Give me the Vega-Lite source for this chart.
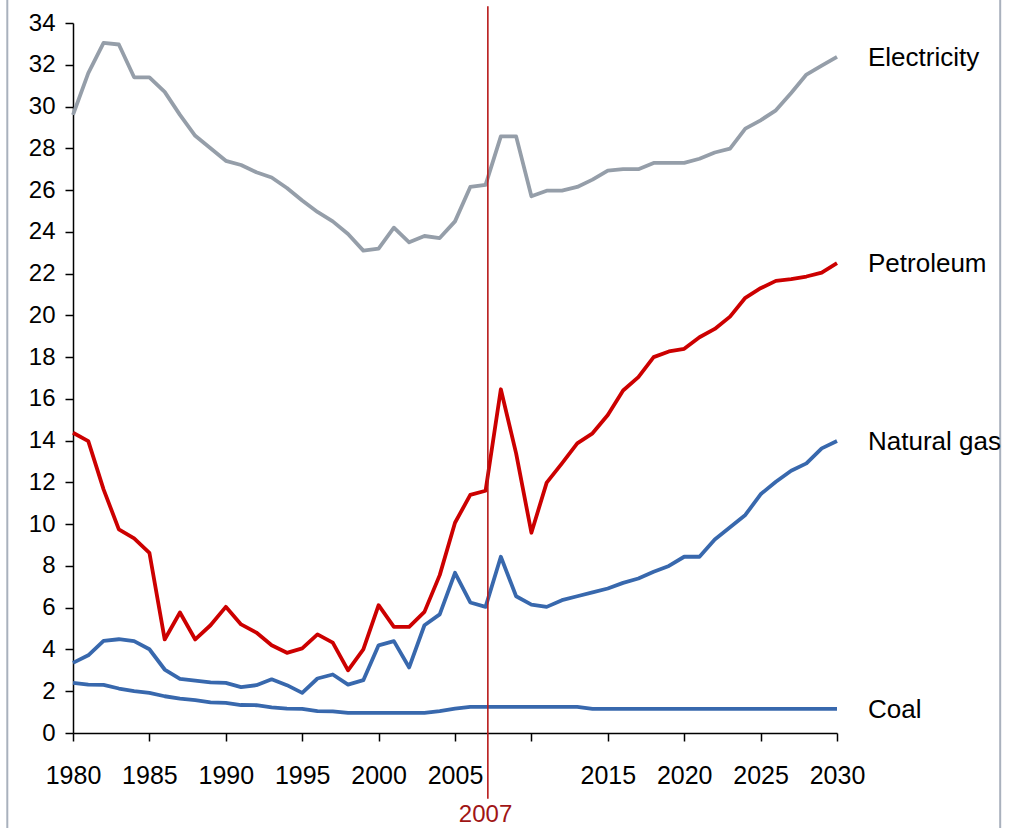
{
  "$schema": "https://vega.github.io/schema/vega-lite/v6.json",
  "autosize": "none",
  "width": 764,
  "height": 710,
  "padding": {"left": 73, "top": 23, "right": 176, "bottom": 95},
  "background": "white",
  "config": {"view": {"stroke": null}, "font": "Liberation Sans"},
  "datasets": {
    "energy": [
      {"year":1980,"Electricity":29.6,"Petroleum":14.38,"Natural gas":3.36,"Coal":2.4},
      {"year":1981,"Electricity":31.6,"Petroleum":13.98,"Natural gas":3.72,"Coal":2.32},
      {"year":1982,"Electricity":33.05,"Petroleum":11.67,"Natural gas":4.41,"Coal":2.3},
      {"year":1983,"Electricity":32.97,"Petroleum":9.75,"Natural gas":4.49,"Coal":2.13},
      {"year":1984,"Electricity":31.4,"Petroleum":9.32,"Natural gas":4.4,"Coal":2.01},
      {"year":1985,"Electricity":31.4,"Petroleum":8.63,"Natural gas":4.01,"Coal":1.92},
      {"year":1986,"Electricity":30.7,"Petroleum":4.48,"Natural gas":3.04,"Coal":1.76},
      {"year":1987,"Electricity":29.6,"Petroleum":5.77,"Natural gas":2.59,"Coal":1.65},
      {"year":1988,"Electricity":28.6,"Petroleum":4.48,"Natural gas":2.51,"Coal":1.57},
      {"year":1989,"Electricity":28.0,"Petroleum":5.16,"Natural gas":2.42,"Coal":1.47},
      {"year":1990,"Electricity":27.4,"Petroleum":6.04,"Natural gas":2.4,"Coal":1.44},
      {"year":1991,"Electricity":27.2,"Petroleum":5.2,"Natural gas":2.2,"Coal":1.34},
      {"year":1992,"Electricity":26.85,"Petroleum":4.81,"Natural gas":2.29,"Coal":1.33},
      {"year":1993,"Electricity":26.6,"Petroleum":4.2,"Natural gas":2.57,"Coal":1.23},
      {"year":1994,"Electricity":26.1,"Petroleum":3.84,"Natural gas":2.29,"Coal":1.17},
      {"year":1995,"Electricity":25.5,"Petroleum":4.05,"Natural gas":1.92,"Coal":1.16},
      {"year":1996,"Electricity":24.95,"Petroleum":4.72,"Natural gas":2.61,"Coal":1.05},
      {"year":1997,"Electricity":24.5,"Petroleum":4.33,"Natural gas":2.8,"Coal":1.04},
      {"year":1998,"Electricity":23.9,"Petroleum":3.0,"Natural gas":2.32,"Coal":0.96},
      {"year":1999,"Electricity":23.1,"Petroleum":4.0,"Natural gas":2.53,"Coal":0.96},
      {"year":2000,"Electricity":23.2,"Petroleum":6.12,"Natural gas":4.2,"Coal":0.96},
      {"year":2001,"Electricity":24.2,"Petroleum":5.08,"Natural gas":4.4,"Coal":0.96},
      {"year":2002,"Electricity":23.5,"Petroleum":5.08,"Natural gas":3.14,"Coal":0.96},
      {"year":2003,"Electricity":23.8,"Petroleum":5.8,"Natural gas":5.16,"Coal":0.96},
      {"year":2004,"Electricity":23.7,"Petroleum":7.56,"Natural gas":5.68,"Coal":1.05},
      {"year":2005,"Electricity":24.5,"Petroleum":10.07,"Natural gas":7.67,"Coal":1.17},
      {"year":2006,"Electricity":26.15,"Petroleum":11.4,"Natural gas":6.25,"Coal":1.25},
      {"year":2007,"Electricity":26.25,"Petroleum":11.6,"Natural gas":6.04,"Coal":1.25},
      {"year":2008,"Electricity":28.57,"Petroleum":16.46,"Natural gas":8.44,"Coal":1.25},
      {"year":2009,"Electricity":28.57,"Petroleum":13.39,"Natural gas":6.55,"Coal":1.25},
      {"year":2010,"Electricity":25.7,"Petroleum":9.59,"Natural gas":6.15,"Coal":1.25},
      {"year":2011,"Electricity":25.97,"Petroleum":11.99,"Natural gas":6.04,"Coal":1.25},
      {"year":2012,"Electricity":25.97,"Petroleum":12.91,"Natural gas":6.36,"Coal":1.25},
      {"year":2013,"Electricity":26.15,"Petroleum":13.87,"Natural gas":6.55,"Coal":1.25},
      {"year":2014,"Electricity":26.5,"Petroleum":14.35,"Natural gas":6.73,"Coal":1.16},
      {"year":2015,"Electricity":26.93,"Petroleum":15.23,"Natural gas":6.92,"Coal":1.16},
      {"year":2016,"Electricity":27.0,"Petroleum":16.4,"Natural gas":7.19,"Coal":1.16},
      {"year":2017,"Electricity":27.0,"Petroleum":17.04,"Natural gas":7.4,"Coal":1.16},
      {"year":2018,"Electricity":27.3,"Petroleum":18.0,"Natural gas":7.72,"Coal":1.16},
      {"year":2019,"Electricity":27.3,"Petroleum":18.27,"Natural gas":8.0,"Coal":1.16},
      {"year":2020,"Electricity":27.3,"Petroleum":18.4,"Natural gas":8.44,"Coal":1.16},
      {"year":2021,"Electricity":27.5,"Petroleum":18.95,"Natural gas":8.44,"Coal":1.16},
      {"year":2022,"Electricity":27.8,"Petroleum":19.35,"Natural gas":9.27,"Coal":1.16},
      {"year":2023,"Electricity":27.98,"Petroleum":19.94,"Natural gas":9.85,"Coal":1.16},
      {"year":2024,"Electricity":28.94,"Petroleum":20.84,"Natural gas":10.44,"Coal":1.16},
      {"year":2025,"Electricity":29.34,"Petroleum":21.3,"Natural gas":11.43,"Coal":1.16},
      {"year":2026,"Electricity":29.82,"Petroleum":21.65,"Natural gas":12.03,"Coal":1.16},
      {"year":2027,"Electricity":30.65,"Petroleum":21.73,"Natural gas":12.56,"Coal":1.16},
      {"year":2028,"Electricity":31.53,"Petroleum":21.86,"Natural gas":12.91,"Coal":1.16},
      {"year":2029,"Electricity":31.96,"Petroleum":22.05,"Natural gas":13.63,"Coal":1.16},
      {"year":2030,"Electricity":32.38,"Petroleum":22.5,"Natural gas":13.98,"Coal":1.16}
    ]
  },
  "layer": [
    {
      "data": {"values": [{"edge": "left", "year": 1975.7, "top": 35.2, "bottom": -4.6}, {"edge": "right", "year": 2040.68, "top": 35.2, "bottom": -4.6}]},
      "mark": {"type": "rule", "color": "#a9b1bd", "strokeWidth": 2},
      "encoding": {
        "x": {"field": "year", "type": "quantitative"},
        "y": {"field": "top", "type": "quantitative"},
        "y2": {"field": "bottom"}
      }
    },
    {
      "data": {"name": "energy"},
      "transform": [{"fold": ["Electricity", "Petroleum", "Natural gas", "Coal"], "as": ["series", "value"]}],
      "mark": {"type": "line", "strokeWidth": 3.8, "strokeJoin": "round"},
      "encoding": {
        "x": {
          "field": "year", "type": "quantitative",
          "scale": {"domain": [1980, 2030], "nice": false, "zero": false},
          "axis": {
            "title": null, "values": [1980,1985,1990,1995,2000,2005,2010,2015,2020,2025,2030],
            "format": "d", "labelExpr": "datum.value == 2010 ? '' : datum.label",
            "grid": false, "domainColor": "black", "domainWidth": 1.5, "tickColor": "black", "tickWidth": 1.5,
            "tickSize": 8, "labelFontSize": 25, "labelColor": "black", "labelPadding": 22, "labelFont": "Liberation Sans",
            "labelFlush": false, "labelOverlap": false
          }
        },
        "y": {
          "field": "value", "type": "quantitative",
          "scale": {"domain": [0, 34], "nice": false},
          "axis": {
            "title": null, "values": [0,2,4,6,8,10,12,14,16,18,20,22,24,26,28,30,32,34],
            "grid": false, "domainColor": "black", "domainWidth": 1.5, "tickColor": "black", "tickWidth": 1.5,
            "tickSize": 8, "labelFontSize": 24, "labelColor": "black", "labelPadding": 10, "labelFont": "Liberation Sans",
            "labelFlush": false, "labelOverlap": false
          }
        },
        "color": {
          "field": "series", "type": "nominal", "legend": null,
          "scale": {"domain": ["Electricity", "Petroleum", "Natural gas", "Coal"], "range": ["#959ea9", "#cc0000", "#3868ad", "#3868ad"]}
        }
      }
    },
    {
      "data": {"values": [{"label": "2007", "year": 2007.15, "top": 34.8, "bottom": -3.15}]},
      "mark": {"type": "rule", "color": "#b81a1a", "strokeWidth": 1.6},
      "encoding": {
        "x": {"field": "year", "type": "quantitative"},
        "y": {"field": "top", "type": "quantitative"},
        "y2": {"field": "bottom"}
      }
    },
    {
      "data": {"values": [{"label": "2007", "year": 2007, "pos": -3.95}]},
      "mark": {"type": "text", "color": "#a01515", "fontSize": 24, "align": "center", "baseline": "middle", "font": "Liberation Sans"},
      "encoding": {
        "x": {"field": "year", "type": "quantitative"},
        "y": {"field": "pos", "type": "quantitative"},
        "text": {"field": "label"}
      }
    },
    {
      "data": {"name": "energy"},
      "transform": [
        {"fold": ["Electricity", "Petroleum", "Natural gas", "Coal"], "as": ["series", "value"]},
        {"filter": "datum.year == 2030"}
      ],
      "mark": {"type": "text", "align": "left", "baseline": "middle", "dx": 31, "dy": 1, "fontSize": 26, "color": "black", "font": "Liberation Sans"},
      "encoding": {
        "x": {"field": "year", "type": "quantitative"},
        "y": {"field": "value", "type": "quantitative"},
        "text": {"field": "series"}
      }
    }
  ]
}
